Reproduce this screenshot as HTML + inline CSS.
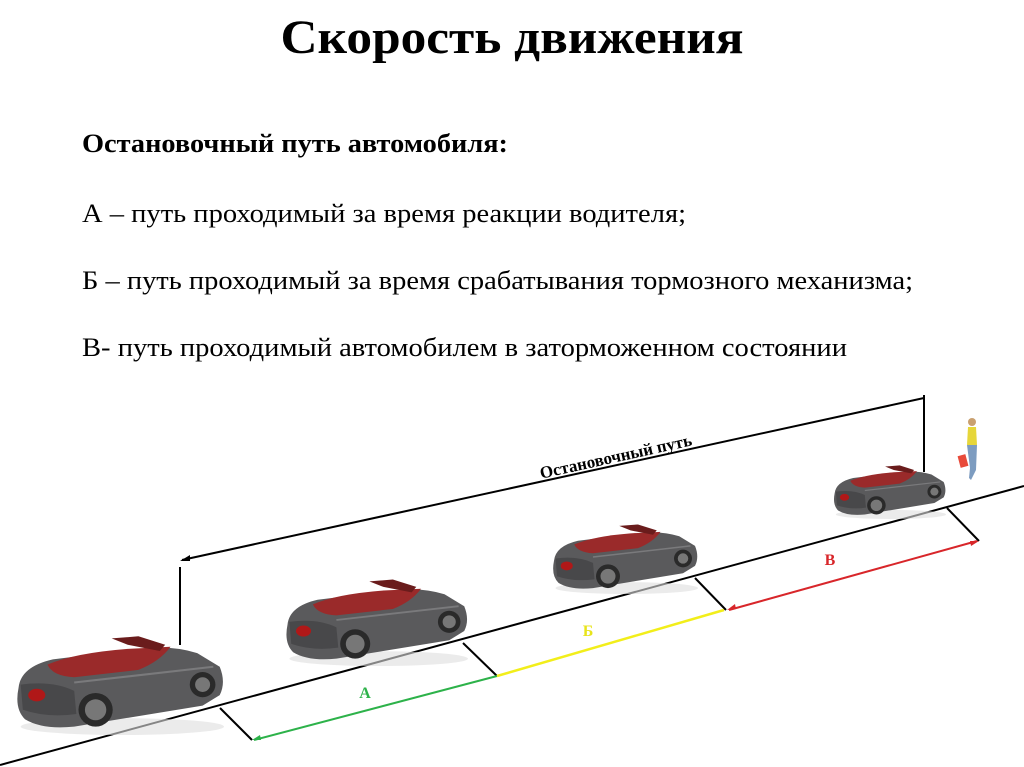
<!DOCTYPE html>
<html><head><meta charset="utf-8"><style>
html,body{margin:0;padding:0;background:#fff;}
svg{display:block;}
</style></head><body>
<svg width="1024" height="767" viewBox="0 0 1024 767" xmlns="http://www.w3.org/2000/svg">
<defs>
<g id="car">
  <ellipse cx="105" cy="92" rx="95" ry="8" fill="#ddd" opacity="0.6"/>
  <path d="M8 55 Q10 35 40 28 L120 18 Q150 14 175 22 L196 35 Q202 50 196 62 L180 72 L60 92 Q30 95 14 85 Q4 75 8 55 Z" fill="#5a5a5c"/>
  <path d="M35 33 Q60 22 110 18 L150 16 Q140 30 120 38 L60 45 Q40 44 35 33 Z" fill="#9a2a2a"/>
  <path d="M95 8 L120 6 L145 14 L140 20 L110 14 Z" fill="#6a1c1c"/>
  <path d="M10 52 Q40 48 60 58 L62 80 Q35 84 12 76 Z" fill="#48484a"/>
  <ellipse cx="25" cy="62" rx="8" ry="6" fill="#b01818"/>
  <circle cx="80" cy="76" r="16" fill="#2a2a2a"/><circle cx="80" cy="76" r="10" fill="#777"/>
  <circle cx="180" cy="52" r="12" fill="#2a2a2a"/><circle cx="180" cy="52" r="7" fill="#777"/>
  <path d="M60 50 L190 35" stroke="#7a7a7c" stroke-width="2"/>
</g>
</defs>
<text x="512" y="53" text-anchor="middle" font-family="Liberation Serif, serif" font-weight="bold" font-size="48" textLength="463" lengthAdjust="spacingAndGlyphs">Скорость движения</text>
<g font-family="Liberation Serif, serif" font-size="26">
<text x="82" y="152" font-weight="bold" textLength="426" lengthAdjust="spacingAndGlyphs">Остановочный путь автомобиля:</text>
<text x="82" y="222" textLength="604" lengthAdjust="spacingAndGlyphs">А – путь проходимый за время реакции водителя;</text>
<text x="82" y="289" textLength="831" lengthAdjust="spacingAndGlyphs">Б – путь проходимый за время срабатывания тормозного механизма;</text>
<text x="82" y="356" textLength="765" lengthAdjust="spacingAndGlyphs">В- путь проходимый автомобилем в заторможенном состоянии</text>
</g>
<line x1="0" y1="765" x2="1024" y2="486" stroke="#000" stroke-width="2"/>
<line x1="182" y1="560" x2="924" y2="398" stroke="#000" stroke-width="2"/>
<path d="M180 561 L190 555 L190 561 Z" fill="#000"/>
<line x1="180" y1="567" x2="180" y2="645" stroke="#000" stroke-width="2"/>
<line x1="924" y1="395" x2="924" y2="472" stroke="#000" stroke-width="2"/>
<text x="617" y="462" text-anchor="middle" font-family="Liberation Serif, serif" font-weight="bold" font-size="17" transform="rotate(-12.5 617 462)">Остановочный путь</text>
<g stroke="#000" stroke-width="2">
<line x1="220" y1="708" x2="252" y2="740"/>
<line x1="463" y1="643" x2="497" y2="676"/>
<line x1="695" y1="578" x2="726" y2="610"/>
<line x1="947" y1="508" x2="979" y2="541"/>
</g>
<line x1="254" y1="740" x2="497" y2="676" stroke="#2db24a" stroke-width="2"/>
<path d="M252 740 L260 735 L261 740 Z" fill="#2db24a"/>
<line x1="497" y1="676" x2="724" y2="610" stroke="#f2ee1a" stroke-width="2.5"/>
<line x1="729" y1="610" x2="977" y2="541" stroke="#d8262a" stroke-width="2"/>
<path d="M727 610 L735 604 L736 609 Z" fill="#d8262a"/>
<path d="M979 541 L970 541 L971 546 Z" fill="#d8262a"/>
<g font-family="Liberation Serif, serif" font-weight="bold" font-size="16">
<text x="365" y="698" fill="#2db24a" text-anchor="middle">А</text>
<text x="588" y="636" fill="#e8e41a" text-anchor="middle">Б</text>
<text x="830" y="565" fill="#d8262a" text-anchor="middle">В</text>
</g>
<use href="#car" transform="translate(10,630) scale(1.07,1.05)"/>
<use href="#car" transform="translate(280,574) scale(0.94,0.92)"/>
<use href="#car" transform="translate(548,520) scale(0.75,0.74)"/>
<use href="#car" transform="translate(830,462) scale(0.58,0.57)"/>
<g>
<circle cx="972" cy="422" r="4" fill="#c9a070"/>
<path d="M968 427 L976 427 L977 445 L967 445 Z" fill="#e6d63a"/>
<path d="M967 445 L977 445 L976 470 L971 480 L969 478 L970 468 Z" fill="#7d9cc0"/>
<rect x="959" y="455" width="8" height="12" fill="#e84a3a" transform="rotate(-15 963 461)"/>
</g>
</svg>
</body></html>
